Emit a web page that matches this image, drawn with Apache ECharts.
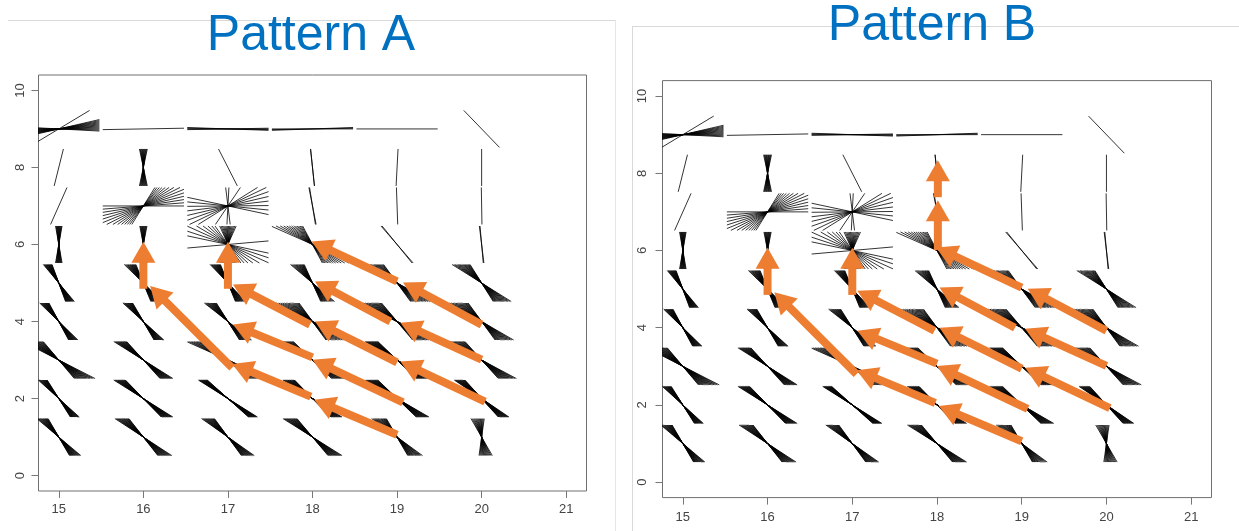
<!DOCTYPE html>
<html>
<head>
<meta charset="utf-8">
<title>Pattern A / Pattern B</title>
<script src="https://cdn.jsdelivr.net/npm/echarts@6/dist/echarts.min.js"></script>
<style>
  html, body { margin: 0; padding: 0; background: #fff; }
  #chart { width: 1239px; height: 531px; }
</style>
</head>
<body>
<div id="chart"></div>
<script>
const titles = ['Pattern A', 'Pattern B'];
const xTicks = [15, 16, 17, 18, 19, 20, 21];
const yTicks = [0, 2, 4, 6, 8, 10];

// line bundles of the field plot: [x, y, angle from, angle to (deg, screen), line count]
const bundles = [
  [15, 1, -60, -40, 18], [16, 1, -52, -33, 18], [17, 1, -54, -35, 18],
  [18, 1, -50, -32, 18], [19, 1, -60, -36, 18], [20, 1, -98, -60, 14],

  [15, 2, -58, -42, 18], [16, 2, -46, -32, 18], [17, 2, -42, -32, 16],
  [18, 2, -46, -32, 18], [19, 2, -44, -30, 18], [20, 2, -48, -34, 18],

  [15, 3, -50, -27, 20], [16, 3, -48, -32, 18], [17, 3, -44, -24, 18],
  [18, 3, -44, -27, 18], [19, 3, -44, -30, 18], [20, 3, -48, -28, 18],

  [15, 4, -62, -44, 18], [16, 4, -60, -42, 18], [17, 4, -58, -38, 18],
  [18, 4, -54, -24, 20], [19, 4, -50, -25, 20], [20, 4, -54, -30, 18],

  [15, 5, -70, -50, 18], [16, 5, -68, -44, 18], [17, 5, -68, -46, 18],
  [18, 5, -66, -40, 18], [19, 5, -54, -28, 18], [20, 5, -58, -32, 18],

  [15, 6, 80, 100, 12], [16, 6, 79, 101, 12],
  [17, 6, 66, 114, 14], [17, 6, -55, -12, 8], [17, 6, 5, 6, 1],
  [18, 6, -62, -24, 14], [19, 6, -51, -49, 2], [20, 6, -85, -83, 2],

  [15, 7, 66, 66, 1], [16, 7, 0, 58, 14],
  [17, 7, -12, 32, 8], [17, 7, 56, 56, 1], [17, 7, 87, 97, 2],
  [18, 7, -81, -79, 2], [19, 7, -88, -88, 1], [20, 7, -89, -89, 1],

  [15, 8, 76, 76, 1], [16, 8, 78, 102, 12], [17, 8, -63, -63, 1],
  [18, 8, -84, -84, 2], [19, 8, 87, 87, 1], [20, 8, 90, 90, 1],

  [15, 9, -3, 13, 12], [15, 9, 31, 31, 1], [16, 9, 1, 1, 1],
  [17, 9, -2, 1, 4], [18, 9, 0, 2, 3], [19, 9, 0, 0, 1], [20, 9, -46, -46, 1]
];

// orange arrows: [x from, y from, x tip, y tip]
const arrowsA = [
  [19.0, 5.04, 17.99, 6.08], [20.0, 3.92, 19.07, 5.01],
  [18.92, 4.0, 18.03, 5.04], [20.0, 3.01, 19.04, 3.97],
  [17.97, 3.92, 17.06, 4.96], [19.0, 2.94, 18.03, 4.0], [20.04, 1.92, 19.04, 2.96],
  [18.0, 3.07, 17.06, 3.92], [19.07, 1.9, 18.0, 3.01],
  [17.98, 2.05, 17.05, 2.9], [19.0, 1.06, 18.02, 1.97],
  [17.05, 2.8, 16.08, 4.92],
  [16.0, 4.85, 16.0, 6.07], [17.0, 4.85, 17.0, 6.07]
];
const arrowsB = arrowsA.concat([
  [18.01, 6.01, 18.01, 7.3], [18.01, 7.38, 18.01, 8.34]
]);

const ORANGE = '#ed7d31';
const HALF_CELL = 0.48;
const FONT = '"Liberation Sans", Arial, sans-serif';

function renderBundle(params, api) {
  const c = api.coord([api.value(0), api.value(1)]);
  const unit = api.size([1, 1]);
  const a0 = api.value(2), a1 = api.value(3), n = api.value(4);
  const children = [];
  for (let k = 0; k < n; k++) {
    const a = (n > 1 ? a0 + (a1 - a0) * k / (n - 1) : a0) * Math.PI / 180;
    const ux = Math.cos(a), uy = Math.sin(a);
    const t = Math.min(
      Math.abs(ux) > 1e-6 ? HALF_CELL * unit[0] / Math.abs(ux) : Infinity,
      Math.abs(uy) > 1e-6 ? HALF_CELL * unit[1] / Math.abs(uy) : Infinity
    );
    children.push({
      type: 'line',
      shape: { x1: c[0] - ux * t, y1: c[1] + uy * t, x2: c[0] + ux * t, y2: c[1] - uy * t },
      style: { stroke: '#000', lineWidth: 0.8 }
    });
  }
  return { type: 'group', children };
}

function renderArrow(params, api) {
  const p0 = api.coord([api.value(0), api.value(1)]);
  const p1 = api.coord([api.value(2), api.value(3)]);
  const dx = p1[0] - p0[0], dy = p1[1] - p0[1];
  const len = Math.hypot(dx, dy);
  const ux = dx / len, uy = dy / len;
  const hl = 21, hw = 12;
  const bx = p1[0] - ux * hl, by = p1[1] - uy * hl;
  return {
    type: 'group',
    children: [
      {
        type: 'line',
        shape: { x1: p0[0], y1: p0[1], x2: bx + ux * 3, y2: by + uy * 3 },
        style: { stroke: ORANGE, lineWidth: 8 }
      },
      {
        type: 'polygon',
        shape: { points: [[p1[0], p1[1]], [bx - uy * hw, by + ux * hw], [bx + uy * hw, by - ux * hw]] },
        style: { fill: ORANGE }
      }
    ]
  };
}

function xAxisFor(i, margin) {
  return {
    gridIndex: i, type: 'value', min: 14.76, max: 21.24,
    axisLine: { show: false, onZero: false }, splitLine: { show: false },
    axisTick: { show: true, inside: false, length: 7, customValues: xTicks, lineStyle: { color: '#777' } },
    axisLabel: { customValues: xTicks, margin: margin, color: '#444', fontSize: 13, fontFamily: FONT }
  };
}
function yAxisFor(i, margin) {
  return {
    gridIndex: i, type: 'value', min: -0.4, max: 10.4,
    axisLine: { show: false, onZero: false }, splitLine: { show: false },
    axisTick: { show: true, inside: false, length: 7, customValues: yTicks, lineStyle: { color: '#777' } },
    axisLabel: { customValues: yTicks, rotate: 90, margin: margin, color: '#444', fontSize: 13, fontFamily: FONT }
  };
}

const chart = echarts.init(document.getElementById('chart'), null, { renderer: 'canvas' });
chart.setOption({
  animation: false,
  backgroundColor: '#fff',
  grid: [
    { left: 38.5, top: 75, width: 548, height: 416, show: true, borderColor: '#707070', borderWidth: 1 },
    { left: 662.5, top: 80.6, width: 549, height: 417, show: true, borderColor: '#707070', borderWidth: 1 }
  ],
  xAxis: [xAxisFor(0, 12), xAxisFor(1, 13)],
  yAxis: [yAxisFor(0, 12), yAxisFor(1, 14)],
  graphic: [
    { type: 'line', shape: { x1: 8, y1: 20.5, x2: 615, y2: 20.5 }, style: { stroke: '#d9d9d9', lineWidth: 1 } },
    { type: 'line', shape: { x1: 615.5, y1: 20, x2: 615.5, y2: 531 }, style: { stroke: '#e6e6e6', lineWidth: 1 } },
    { type: 'line', shape: { x1: 632, y1: 26.5, x2: 1239, y2: 26.5 }, style: { stroke: '#d9d9d9', lineWidth: 1 } },
    { type: 'line', shape: { x1: 632.5, y1: 26, x2: 632.5, y2: 531 }, style: { stroke: '#d9d9d9', lineWidth: 1 } },
    {
      type: 'text', x: 311, y: 36.5, z: 10,
      style: { text: titles[0], fill: '#0070c0', font: '50px ' + FONT, align: 'center', verticalAlign: 'middle' }
    },
    {
      type: 'text', x: 932, y: 26.5, z: 10,
      style: { text: titles[1], fill: '#0070c0', font: '50px ' + FONT, align: 'center', verticalAlign: 'middle' }
    }
  ],
  series: [
    { type: 'custom', xAxisIndex: 0, yAxisIndex: 0, clip: true, renderItem: renderBundle, data: bundles, z: 2 },
    { type: 'custom', xAxisIndex: 1, yAxisIndex: 1, clip: true, renderItem: renderBundle, data: bundles, z: 2 },
    { type: 'custom', xAxisIndex: 0, yAxisIndex: 0, renderItem: renderArrow, data: arrowsA, z: 3 },
    { type: 'custom', xAxisIndex: 1, yAxisIndex: 1, renderItem: renderArrow, data: arrowsB, z: 3 }
  ]
});
</script>
</body>
</html>
